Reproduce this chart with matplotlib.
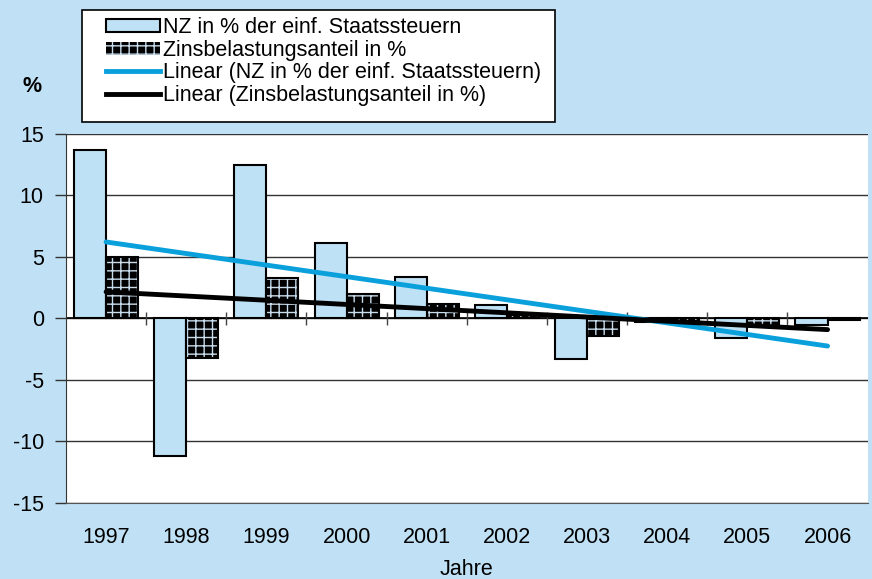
import numpy as np
import matplotlib.pyplot as plt
from matplotlib.patches import Patch, Rectangle
from matplotlib.lines import Line2D

plt.rcParams['font.family'] = ['Liberation Sans', 'DejaVu Sans']

years = ['1997', '1998', '1999', '2000', '2001', '2002', '2003', '2004', '2005', '2006']
nz = [13.7, -11.2, 12.5, 6.1, 3.4, 1.1, -3.3, -0.3, -1.6, -0.5]
zins = [5.0, -3.2, 3.3, 2.0, 1.2, 0.3, -1.4, -0.2, -0.6, -0.1]

bg = '#c0e1f5'
bar_fill = '#bee1f5'
blue = '#0aa0dc'
fs = 15.5

fig = plt.figure(figsize=(8.72, 5.79), dpi=100, facecolor=bg)
ax = fig.add_axes([0.0757, 0.1313, 0.9193, 0.6373])
ax.set_facecolor('white')

x = np.arange(len(years))
w = 0.4

# NZ bars
ax.bar(x - w / 2, nz, w, color=bar_fill, edgecolor='black', linewidth=1.5, zorder=3)
# Zins bars: black with light grid hatch, then black outline
ax.bar(x + w / 2, zins, w, color='black', edgecolor='#c8dcec', hatch='++',
       linewidth=0, zorder=3)
ax.bar(x + w / 2, zins, w, color='none', edgecolor='black', linewidth=1.5, zorder=4)

# linear trend lines (as Excel)
k1, d1 = np.polyfit(x, nz, 1)
k2, d2 = np.polyfit(x, zins, 1)
ax.plot(x, k1 * x + d1, color=blue, lw=3.5, zorder=5, solid_capstyle='round')
ax.plot(x, k2 * x + d2, color='black', lw=3.5, zorder=5, solid_capstyle='round')

ax.set_xlim(-0.5, len(years) - 0.5)
ax.set_ylim(-15, 15)
ax.set_yticks(np.arange(-15, 16, 5))
ax.set_yticklabels([str(v) for v in range(-15, 16, 5)], fontsize=fs)
ax.yaxis.grid(True, color='#333333', lw=1)
ax.axhline(0, color='black', lw=1.2, zorder=2)
ax.set_axisbelow(True)

ax.set_xticks(x)
ax.set_xticklabels(years, fontsize=fs)
ax.tick_params(axis='x', length=0, pad=17)
ax.tick_params(axis='y', length=8, width=1, color='#333333', pad=8)

for s in ['top', 'right']:
    ax.spines[s].set_visible(False)
ax.spines['bottom'].set_color('#555555')
ax.spines['left'].set_color('#333333')

# category separator ticks crossing the zero line
ax.vlines(x[:-1] + 0.5, -0.5, 0.5, color='#444444', lw=1, zorder=2)

ax.set_xlabel('Jahre', fontsize=fs, labelpad=8)
fig.text(0.037, 0.851, '%', fontsize=fs, fontweight='bold', ha='center', va='center')

handles = [
    Patch(facecolor=bar_fill, edgecolor='black', lw=1.5),
    Patch(facecolor='black', edgecolor='#c8dcec', hatch='++', lw=0),
    Line2D([], [], color=blue, lw=3.5),
    Line2D([], [], color='black', lw=3.5),
]
labels = ['NZ in % der einf. Staatssteuern', 'Zinsbelastungsanteil in %',
          'Linear (NZ in % der einf. Staatssteuern)', 'Linear (Zinsbelastungsanteil in %)']
leg = fig.legend(handles, labels, loc='upper left', bbox_to_anchor=(0.121, 0.970),
                 fontsize=fs, frameon=False, handlelength=2.55, handleheight=0.55,
                 handletextpad=0.1, labelspacing=0.07, borderpad=0,
                 borderaxespad=0)
fig.patches.append(Rectangle((82 / 872, 1 - 122 / 579), (555 - 82) / 872, 112 / 579,
                             transform=fig.transFigure, facecolor='white',
                             edgecolor='black', lw=1.2, zorder=0))

fig.savefig('out.png', dpi=100, facecolor=bg)
